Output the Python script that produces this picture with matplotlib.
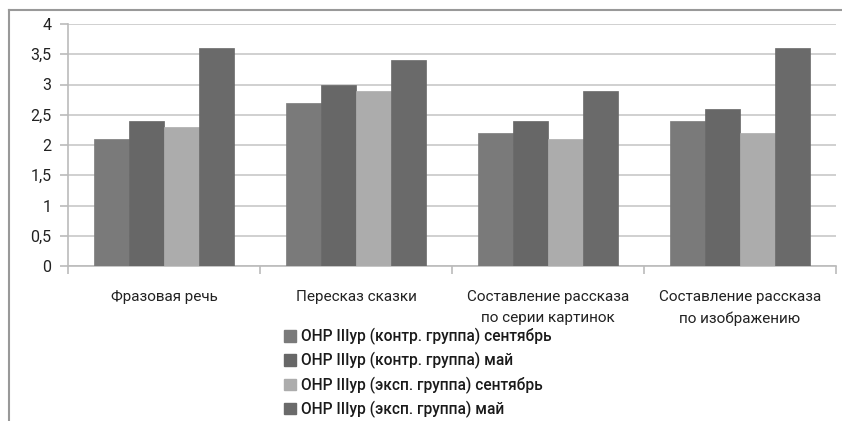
import matplotlib
matplotlib.use("Agg")
import matplotlib.pyplot as plt
from matplotlib.lines import Line2D
from matplotlib.patches import Patch
import numpy as np

plt.rcParams['font.family'] = ['Roboto', 'DejaVu Sans']

categories = ["Фразовая речь", "Пересказ сказки",
              "Составление рассказа\nпо серии картинок",
              "Составление рассказа\nпо изображению"]
series_names = ["ОНР IIIур (контр. группа) сентябрь",
                "ОНР IIIур (контр. группа) май",
                "ОНР IIIур (эксп. группа) сентябрь",
                "ОНР IIIур (эксп. группа) май"]
kontr_sep = [2.1, 2.7, 2.2, 2.4]
kontr_may = [2.4, 3.0, 2.4, 2.6]
eksp_sep = [2.3, 2.9, 2.1, 2.2]
eksp_may = [3.6, 3.4, 2.9, 3.6]
y_ticks = [0, 0.5, 1, 1.5, 2, 2.5, 3, 3.5, 4]
y_labels = ["0", "0,5", "1", "1,5", "2", "2,5", "3", "3,5", "4"]

colors = ["#7a7a7a", "#676767", "#acacac", "#6a6a6a"]
series = [kontr_sep, kontr_may, eksp_sep, eksp_may]

fig = plt.figure(figsize=(8.42, 4.21), dpi=100)
ax = fig.add_axes([68/842, 1-266/421, (836-68)/842, (266-24)/421])

n = len(series)
w = 0.181
x = np.arange(len(categories))
for i, (vals, c) in enumerate(zip(series, colors)):
    ax.bar(x + (i - (n-1)/2) * w, vals, width=w, color=c, label=series_names[i],
           zorder=3, edgecolor=c, linewidth=0.5)

ax.set_xlim(-0.5, len(categories) - 0.5)
ax.set_ylim(0, 4)
ax.set_yticks(y_ticks)
ax.set_yticklabels(y_labels, fontsize=11.5, color="#222222")
ax.yaxis.grid(True, color="#c8c8c8", linewidth=1.2, zorder=0)
ax.set_xticks(x)
ax.set_xticklabels(categories, fontsize=11, color="#222222", linespacing=1.7)
ax.tick_params(axis='x', length=0, pad=17)
ax.tick_params(axis='y', length=6, color="#bbbbbb", width=1.2, pad=6)
# minor ticks at category boundaries
ax.set_xticks(np.arange(len(categories)+1) - 0.5, minor=True)
ax.tick_params(axis='x', which='minor', length=6, color="#bbbbbb", width=1.2)
for s in ['top', 'right']:
    ax.spines[s].set_visible(False)
for s in ['left', 'bottom']:
    ax.spines[s].set_color("#bbbbbb")
    ax.spines[s].set_linewidth(1.2)

# outer frame lines
fig.add_artist(Line2D([8.5/842, 8.5/842], [0, 1-10/421], color="#999999", linewidth=1.5))
fig.add_artist(Line2D([8.5/842, 1], [1-10/421, 1-10/421], color="#999999", linewidth=1.5))

handles = [Patch(facecolor=c, edgecolor=c) for c in colors]
fig.legend(handles, series_names, loc='upper left',
           bbox_to_anchor=(284/842, 1-328/421), frameon=False,
           borderaxespad=0, borderpad=0,
           prop={'size': 11.2, 'family': ['Roboto', 'DejaVu Sans'], 'weight': 'medium'},
           handlelength=0.75, handleheight=0.75, handletextpad=0.35,
           labelspacing=0.46, labelcolor="#1a1a1a")

fig.savefig("out.png", dpi=100)
